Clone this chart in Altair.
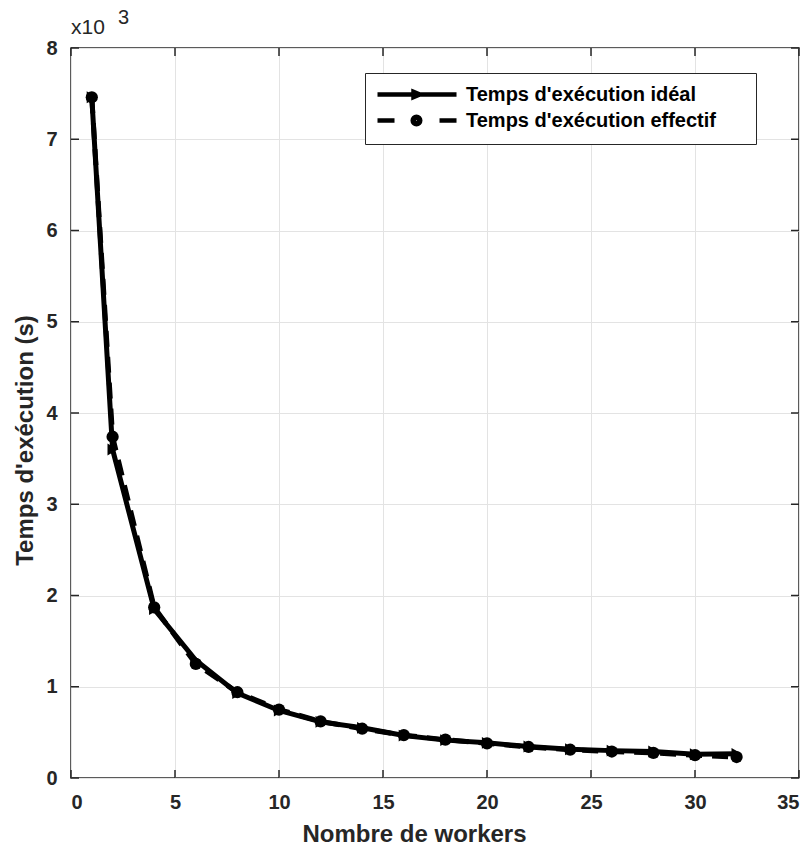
import altair as alt
import pandas as pd

workers = [1, 2, 4, 6, 8, 10, 12, 14, 16, 18, 20, 22, 24, 26, 28, 30, 32]
ideal = [7460, 3600, 1850, 1290, 930, 740, 615, 550, 465, 415, 385, 345, 315, 300, 290, 260, 265]
effectif = [7460, 3740, 1870, 1250, 940, 750, 620, 540, 470, 420, 380, 340, 310, 290, 275, 250, 230]
series_names = ["Temps d'exécution idéal", "Temps d'exécution effectif"]
x_ticks = [0, 5, 10, 15, 20, 25, 30, 35]
y_ticks = [0, 1000, 2000, 3000, 4000, 5000, 6000, 7000, 8000]

rows = []
for w, a, b in zip(workers, ideal, effectif):
    rows.append({"w": w, "t": a, "serie": series_names[0]})
    rows.append({"w": w, "t": b, "serie": series_names[1]})
df = pd.DataFrame(rows)
df_xt = pd.DataFrame({"w": x_ticks})
df_yt = pd.DataFrame({"t": y_ticks})

W, H = 728, 730
TICK = 8
FONT = "Liberation Sans"
TXT = "#262626"
XS = alt.Scale(domain=[0, 35], nice=False)
YS = alt.Scale(domain=[0, 8000], nice=False)

x_main = alt.Axis(values=x_ticks, title="Nombre de workers", grid=True, orient="bottom",
                  gridColor="#e3e3e3", gridWidth=1, domain=False, ticks=False,
                  labelPadding=14, labelFont=FONT, labelFontSize=20, labelFontWeight="bold",
                  labelColor=TXT, titleFont=FONT, titleFontSize=24, titleFontWeight="bold",
                  titleColor=TXT, titleX=343, titleY=63, titleBaseline="alphabetic",
                  titleAlign="center")
y_main = alt.Axis(values=y_ticks, title="Temps d'exécution (s)", grid=True, orient="left",
                  gridColor="#e3e3e3", gridWidth=1, domain=False, ticks=False,
                  labelPadding=14, labelExpr="datum.value / 1000",
                  labelFont=FONT, labelFontSize=20, labelFontWeight="bold",
                  labelColor=TXT, titleFont=FONT, titleFontSize=24, titleFontWeight="bold",
                  titleColor=TXT, titleX=-34, titleY=392, titleAngle=270,
                  titleBaseline="bottom", titleAlign="center")

base = alt.Chart(df)

line_ideal = base.transform_filter(alt.datum.serie == series_names[0]).mark_line(
    strokeWidth=5, color="black").encode(
    x=alt.X("w:Q", scale=XS, axis=x_main), y=alt.Y("t:Q", scale=YS, axis=y_main), order="w:Q")

line_eff = base.transform_filter(alt.datum.serie == series_names[1]).mark_line(
    strokeWidth=5, color="black", strokeDash=[16, 10]).encode(
    x=alt.X("w:Q", scale=XS, axis=None), y=alt.Y("t:Q", scale=YS, axis=None), order="w:Q")

pts_ideal = base.transform_filter(alt.datum.serie == series_names[0]).mark_point(
    shape="triangle-right", filled=True, opacity=1, size=140, color="black").encode(
    x=alt.X("w:Q", scale=XS, axis=None), y=alt.Y("t:Q", scale=YS, axis=None))

pts_eff = base.transform_filter(alt.datum.serie == series_names[1]).mark_point(
    shape="circle", filled=True, opacity=1, size=150, color="black").encode(
    x=alt.X("w:Q", scale=XS, axis=None), y=alt.Y("t:Q", scale=YS, axis=None))

# inward ticks on all four sides (MATLAB box style)
tick_style = dict(color=TXT, strokeWidth=1.5)
xt_bottom = alt.Chart(df_xt).mark_rule(**tick_style).encode(
    x=alt.X("w:Q", scale=XS, axis=None), y=alt.value(H - TICK), y2=alt.value(H))
xt_top = alt.Chart(df_xt).mark_rule(**tick_style).encode(
    x=alt.X("w:Q", scale=XS, axis=None), y=alt.value(0), y2=alt.value(TICK))
yt_left = alt.Chart(df_yt).mark_rule(**tick_style).encode(
    y=alt.Y("t:Q", scale=YS, axis=None), x=alt.value(0), x2=alt.value(TICK))
yt_right = alt.Chart(df_yt).mark_rule(**tick_style).encode(
    y=alt.Y("t:Q", scale=YS, axis=None), x=alt.value(W - TICK), x2=alt.value(W))

legend_paths = [
    "M-1,0H7.78M3.0,-0.3L3.7,0L3.0,0.3Z",
    "M-1,0H0.89M3.75,0A0.42,0.42,0,1,1,2.91,0A0.42,0.42,0,1,1,3.75,0Z"
    "M3.53,0A0.2,0.2,0,1,1,3.13,0A0.2,0.2,0,1,1,3.53,0ZM5.89,0H7.78",
]

legend_layer = base.transform_filter("false").mark_point(
    filled=False, opacity=1, size=324, color="black", stroke="black", strokeWidth=4.5).encode(
    x=alt.X("w:Q", scale=XS, axis=None), y=alt.Y("t:Q", scale=YS, axis=None),
    shape=alt.Shape("serie:N", scale=alt.Scale(domain=series_names, range=legend_paths),
                    legend=alt.Legend(title=None, orient="none", legendX=294, legendY=25,
                                      symbolSize=324, symbolStrokeWidth=4.5,
                                      symbolStrokeColor="black", symbolFillColor="black",
                                      symbolOpacity=1,
                                      labelFont=FONT, labelFontSize=20, labelFontWeight="bold",
                                      labelColor="black", strokeColor=TXT, fillColor="white",
                                      padding=10, rowPadding=0, labelOffset=68, labelLimit=600,
                                      labelExpr="datum.label + '\u2800\u2800'")))

exp_label = alt.Chart(pd.DataFrame({"s": ["x10"]})).mark_text(
    font=FONT, fontSize=21, color=TXT, align="left", baseline="alphabetic").encode(
    text="s:N", x=alt.value(0), y=alt.value(-14))
exp_sup = alt.Chart(pd.DataFrame({"s": ["3"]})).mark_text(
    font=FONT, fontSize=20, color=TXT, align="left", baseline="alphabetic").encode(
    text="s:N", x=alt.value(47), y=alt.value(-24))

chart = alt.layer(line_ideal, line_eff, pts_ideal, pts_eff, xt_bottom, xt_top, yt_left, yt_right,
                  legend_layer, exp_label, exp_sup).resolve_axis(
    x="independent", y="independent").properties(
    width=W, height=H,
    autosize=alt.AutoSizeParams(type="none"),
    padding={"left": 71, "top": 48, "right": 11, "bottom": 69},
    background="white",
).configure_view(stroke=TXT, strokeWidth=1.5)

chart.save("out.html", embed_options={"renderer": "svg", "actions": False})
